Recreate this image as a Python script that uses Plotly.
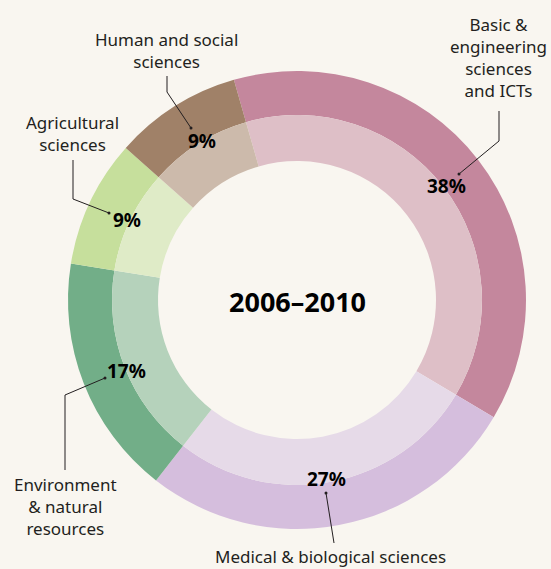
import plotly.graph_objects as go

W, H = 551, 569

categories = ["Basic & engineering sciences and ICTs", "Medical & biological sciences",
              "Environment & natural resources", "Agricultural sciences", "Human and social sciences"]
values = [38, 27, 17, 9, 9]
pct_labels = ["38%", "27%", "17%", "9%", "9%"]
outer_colors = ["#C4879D", "#D5BEDD", "#72AE88", "#C6DF9C", "#A08168"]
inner_colors = ["#DEBFC7", "#E6DAE8", "#B5D2BB", "#DFEBC7", "#CCBAAB"]
center_title = "2006–2010"

CX, CY = 297, 300          # pie centre in px (from top-left)
R_OUT, R_MID, R_IN = 229, 185, 139

BG = "#F9F6F0"
TXT = "#231F20"
FONT = "Noto Sans"


def px(x):
    return x / W


def py(y):
    return 1 - y / H


def dom(r):
    return dict(x=[px(CX - r), px(CX + r)], y=[py(CY + r), py(CY - r)])


fig = go.Figure()
fig.add_trace(go.Pie(labels=categories, values=values, sort=False, direction="clockwise",
                     rotation=-16, hole=R_MID / R_OUT, domain=dom(R_OUT),
                     marker=dict(colors=outer_colors, line=dict(width=0)),
                     textinfo="none", hoverinfo="label+percent", showlegend=False))
fig.add_trace(go.Pie(labels=categories, values=values, sort=False, direction="clockwise",
                     rotation=-16, hole=R_IN / R_MID, domain=dom(R_MID),
                     marker=dict(colors=inner_colors, line=dict(width=0)),
                     textinfo="none", hoverinfo="label+percent", showlegend=False))

annotations = []
shapes = []

# centre title
annotations.append(dict(x=px(CX), y=py(302), text=f"<b>{center_title}</b>", showarrow=False,
                        xanchor="center", yanchor="middle",
                        font=dict(family=FONT, size=27, color="#000000")))

# percentage labels (px positions of label centres)
pct_pos = [(446, 186), (326, 479), (126, 371), (127, 220), (202, 141)]
for t, (x, y) in zip(pct_labels, pct_pos):
    annotations.append(dict(x=px(x), y=py(y), text=f"<b>{t}</b>", showarrow=False,
                            xanchor="center", yanchor="middle",
                            font=dict(family=FONT, size=19, color="#000000")))

# category labels
cat_text = ["Basic &<br>engineering<br>sciences<br>and ICTs",
            "Medical & biological sciences",
            "Environment<br>& natural<br>resources",
            "Agricultural<br>sciences",
            "Human and social<br>sciences"]
cat_pos = [(498, 57), (330, 556), (65, 506), (72, 133), (166, 50)]
for t, (x, y) in zip(cat_text, cat_pos):
    annotations.append(dict(x=px(x), y=py(y), text=t, showarrow=False,
                            xanchor="center", yanchor="middle", align="center",
                            font=dict(family=FONT, size=17, color=TXT)))

# leader lines (polyline points in px)
leaders = [
    [(499, 111), (499, 141), (459, 174)],
    [(334, 543), (326, 493)],
    [(65, 470), (65, 395), (105, 378)],
    [(73, 160), (73, 199), (109, 213)],
    [(167, 76), (167, 92), (191, 128)],
]
for pts in leaders:
    path = "M " + " L ".join(f"{px(x)},{py(y)}" for x, y in pts)
    shapes.append(dict(type="path", path=path, xref="paper", yref="paper",
                       line=dict(color=TXT, width=1)))
    ex, ey = pts[-1]
    shapes.append(dict(type="circle", xref="paper", yref="paper",
                       x0=px(ex - 1.5), x1=px(ex + 1.5), y0=py(ey + 1.5), y1=py(ey - 1.5),
                       fillcolor=TXT, line=dict(width=0)))

fig.update_layout(width=W, height=H, autosize=False,
                  margin=dict(l=0, r=0, t=0, b=0),
                  paper_bgcolor=BG, plot_bgcolor=BG,
                  annotations=annotations, shapes=shapes, showlegend=False)

fig.write_html("out.html", config={"displayModeBar": False},
               post_script="document.body.style.margin='0';document.body.style.overflow='hidden';")
